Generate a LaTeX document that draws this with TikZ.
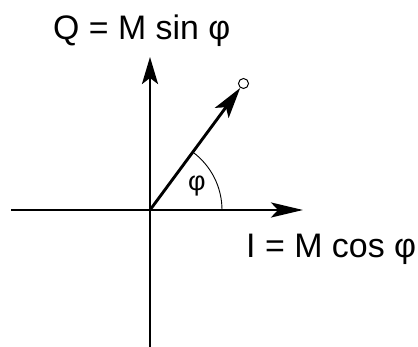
\documentclass[tikz,border=0pt]{standalone}
\usepackage{fontspec}
\setmainfont{Liberation Sans}
\usetikzlibrary{arrows.meta}
\begin{document}
\begin{tikzpicture}[x=1pt,y=1pt,
  axis/.style={line width=2.9pt},
  lbl/.style={inner sep=0pt,font=\fontsize{34}{38}\selectfont},
  tipv/.style={-{Stealth[length=27pt,width=16pt,inset=6pt]}},
  tiph/.style={-{Stealth[length=32pt,width=15pt,inset=7pt]}},
  tipd/.style={-{Stealth[length=31pt,width=17pt,inset=7pt]}}]
\useasboundingbox (0,0) rectangle (418,-347);
\coordinate (O) at (150,-210);
\coordinate (xl) at (11,-210);
\coordinate (xr) at (303,-210);
\coordinate (yb) at (150,-350);
\coordinate (yt) at (150,-57);
\node[draw,circle,line width=1pt,minimum size=10pt,inner sep=0pt,fill=white] (c) at (243.5,-83.5) {};
\draw[axis,tiph] (xl) -- (xr);
\draw[axis,tipv] (yb) -- (yt);
\draw[axis,tipd] (O) -- (c);
\draw[line width=0.9pt] (O) ++(72,0) arc[start angle=0,end angle=53.9,radius=72];
\node[lbl,font=\fontsize{27}{30}\selectfont] (phi) at (197,-186) {φ};
\node[lbl,anchor=base west] (Q) at (53,-40) {\resizebox{177pt}{\height}{Q = M sin φ}};
\node[lbl,anchor=base west] (I) at (246,-258) {\resizebox{170pt}{\height}{I = M cos φ}};
\end{tikzpicture}
\end{document}
